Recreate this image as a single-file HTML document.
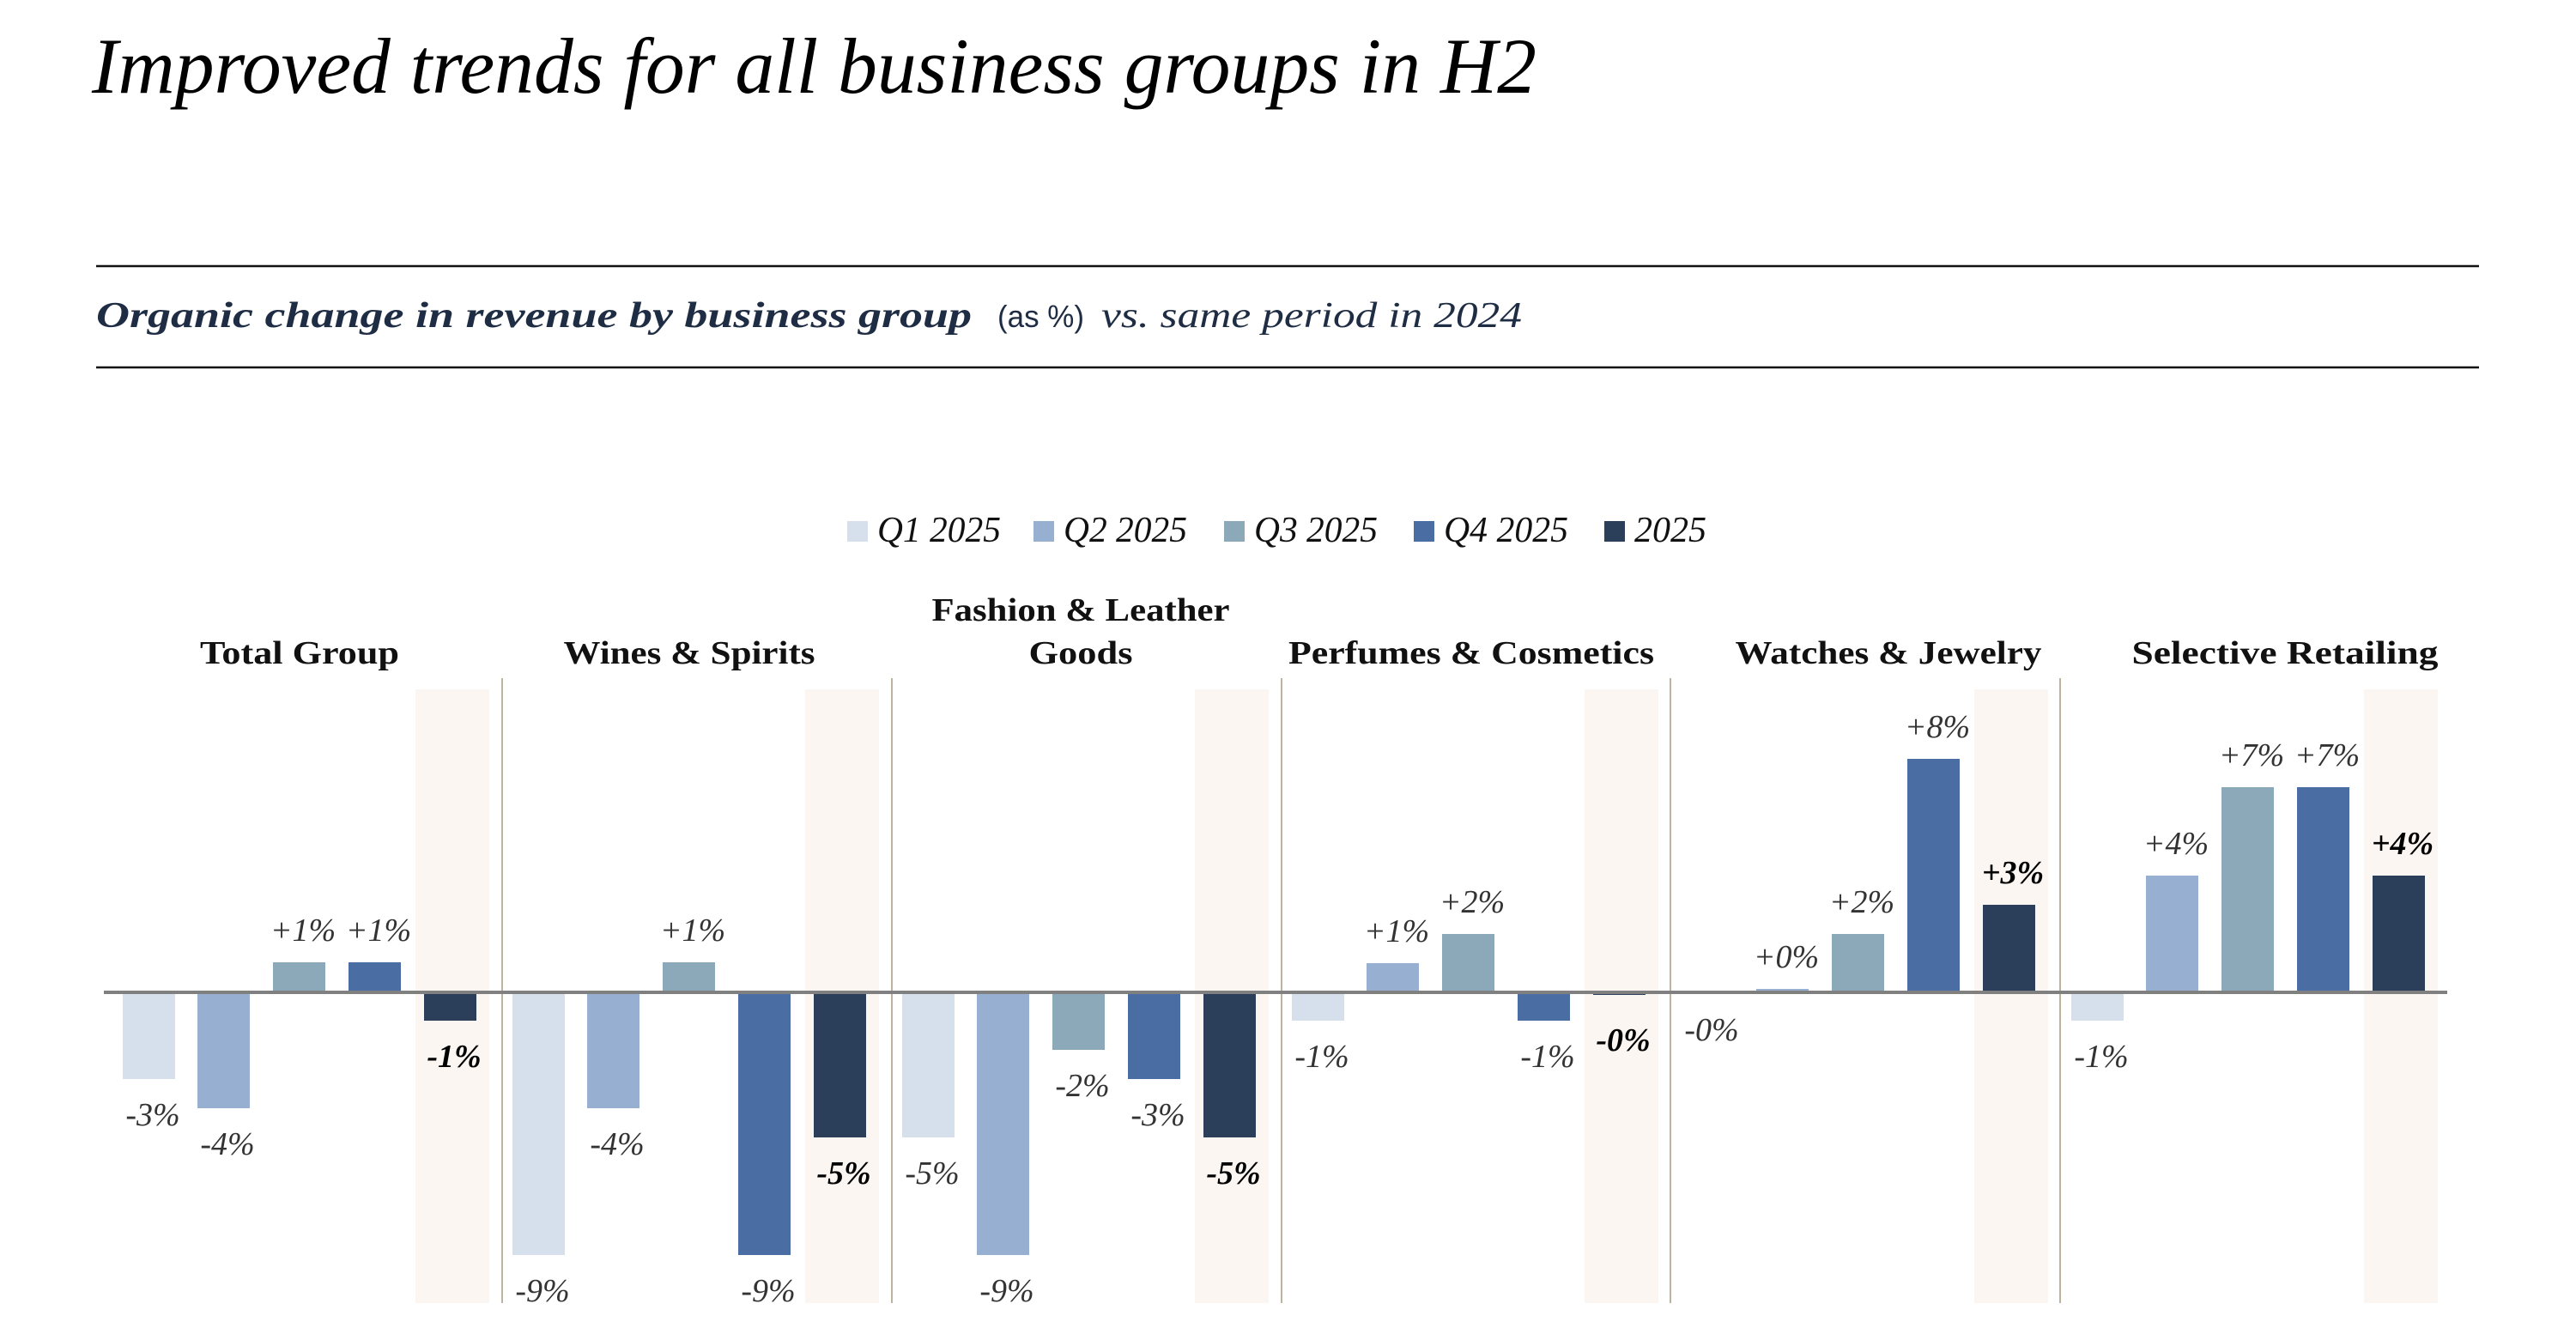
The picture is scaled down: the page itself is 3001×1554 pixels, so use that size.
<!DOCTYPE html>
<html><head><meta charset="utf-8"><style>
html,body{margin:0;padding:0;background:#fff}
svg{display:block}
</style></head><body>
<svg width="3001" height="1554" viewBox="0 0 3001 1554" xmlns="http://www.w3.org/2000/svg">
<rect width="3001" height="1554" fill="#fff"/>
<!-- Title -->
<text x="107" y="108" font-family="Liberation Serif, serif" font-style="italic" font-size="92" fill="#000" textLength="1683" lengthAdjust="spacingAndGlyphs">Improved trends for all business groups in H2</text>
<line x1="112" y1="310" x2="2888" y2="310" stroke="#111" stroke-width="2.5"/>
<line x1="112" y1="428" x2="2888" y2="428" stroke="#111" stroke-width="2.5"/>
<text x="112" y="381" font-family="Liberation Serif, serif" font-style="italic" font-weight="bold" font-size="42" fill="#1f2d44" textLength="1020" lengthAdjust="spacingAndGlyphs">Organic change in revenue by business group</text>
<text x="1162" y="381" font-family="Liberation Sans, sans-serif" font-size="36" fill="#1f2d44" textLength="101" lengthAdjust="spacingAndGlyphs">(as %)</text>
<text x="1283" y="381" font-family="Liberation Serif, serif" font-style="italic" font-size="42" fill="#1f2d44" textLength="490" lengthAdjust="spacingAndGlyphs">vs. same period in 2024</text>

<!-- Legend -->
<g font-family="Liberation Serif, serif" font-style="italic" font-size="42" fill="#111">
<rect x="987" y="607" width="24" height="24" fill="#d6e0ec"/><text x="1022" y="631" textLength="144" lengthAdjust="spacingAndGlyphs">Q1 2025</text>
<rect x="1204" y="607" width="24" height="24" fill="#97afd0"/><text x="1239" y="631" textLength="144" lengthAdjust="spacingAndGlyphs">Q2 2025</text>
<rect x="1426" y="607" width="24" height="24" fill="#8ba9b8"/><text x="1461" y="631" textLength="144" lengthAdjust="spacingAndGlyphs">Q3 2025</text>
<rect x="1647" y="607" width="24" height="24" fill="#4a6da3"/><text x="1682" y="631" textLength="145" lengthAdjust="spacingAndGlyphs">Q4 2025</text>
<rect x="1869" y="607" width="24" height="24" fill="#2c3f5a"/><text x="1904" y="631" textLength="84" lengthAdjust="spacingAndGlyphs">2025</text>
</g>

<!-- Highlight bands -->
<g fill="#fbf6f2">
<rect x="484" y="803" width="86" height="715"/>
<rect x="938" y="803" width="86" height="715"/>
<rect x="1392" y="803" width="86" height="715"/>
<rect x="1846" y="803" width="86" height="715"/>
<rect x="2300" y="803" width="86" height="715"/>
<rect x="2754" y="803" width="86" height="715"/>
</g>
<!-- separators -->
<g stroke="#a89a7e" stroke-width="1.5">
<line x1="585" y1="790" x2="585" y2="1518"/>
<line x1="1039" y1="790" x2="1039" y2="1518"/>
<line x1="1493" y1="790" x2="1493" y2="1518"/>
<line x1="1946" y1="790" x2="1946" y2="1518"/>
<line x1="2400" y1="790" x2="2400" y2="1518"/>
</g>

<!-- Category titles -->
<g font-family="Liberation Serif, serif" font-weight="bold" font-size="38" fill="#111" text-anchor="middle">
<text x="349" y="773" textLength="232" lengthAdjust="spacingAndGlyphs">Total Group</text>
<text x="803" y="773" textLength="293" lengthAdjust="spacingAndGlyphs">Wines &amp; Spirits</text>
<text x="1259" y="723" textLength="347" lengthAdjust="spacingAndGlyphs">Fashion &amp; Leather</text>
<text x="1259" y="773" textLength="121" lengthAdjust="spacingAndGlyphs">Goods</text>
<text x="1714" y="773" textLength="426" lengthAdjust="spacingAndGlyphs">Perfumes &amp; Cosmetics</text>
<text x="2200" y="773" textLength="357" lengthAdjust="spacingAndGlyphs">Watches &amp; Jewelry</text>
<text x="2662" y="773" textLength="357" lengthAdjust="spacingAndGlyphs">Selective Retailing</text>
</g>

<!-- Bars -->
<g id="bars"></g>
<g id="labels" font-family="Liberation Serif, serif" font-style="italic" font-size="38" text-anchor="middle"></g>
<line x1="121" y1="1156" x2="2851" y2="1156" stroke="#808080" stroke-width="4"/>
</svg>
<script>
var Z=1156;
var cols=["#d6e0ec","#97afd0","#8ba9b8","#4a6da3","#2c3f5a"];
var offs=[12,99,187,275,363];
// heights in px (positive up), labels
var data=[
 [[-101,"-3%"],[-135,"-4%"],[35,"+1%"],[35,"+1%"],[-33,"-1%"]],
 [[-306,"-9%"],[-135,"-4%"],[35,"+1%"],[-306,"-9%"],[-169,"-5%"]],
 [[-169,"-5%"],[-306,"-9%"],[-67,"-2%"],[-101,"-3%"],[-169,"-5%"]],
 [[-33,"-1%"],[34,"+1%"],[68,"+2%"],[-33,"-1%"],[-3,"-0%",1224]],
 [[-2,"-0%",1212],[4,"+0%"],[68,"+2%"],[272,"+8%"],[102,"+3%"]],
 [[-33,"-1%"],[136,"+4%"],[239,"+7%"],[239,"+7%"],[136,"+4%"]]
];
var ns="http://www.w3.org/2000/svg",B=document.getElementById("bars"),L=document.getElementById("labels");
data.forEach(function(g,gi){
 var gx=131+454*gi;
 g.forEach(function(d,i){
  var h=d[0],x=gx+offs[i];
  var r=document.createElementNS(ns,"rect");
  r.setAttribute("x",x);r.setAttribute("width",61);
  r.setAttribute("y",h>0?Z-h:Z);r.setAttribute("height",Math.abs(h));
  r.setAttribute("fill",cols[i]);B.appendChild(r);
  var t=document.createElementNS(ns,"text");
  var y=d[2]||(h>0?Z-h-25:Z-h+54);
  t.setAttribute("x",x+35);t.setAttribute("y",y);
  if(i==4){t.setAttribute("font-weight","bold");t.setAttribute("fill","#000");}
  else t.setAttribute("fill","#333");
  t.textContent=d[1];L.appendChild(t);
 });
});
</script>
</body></html>
